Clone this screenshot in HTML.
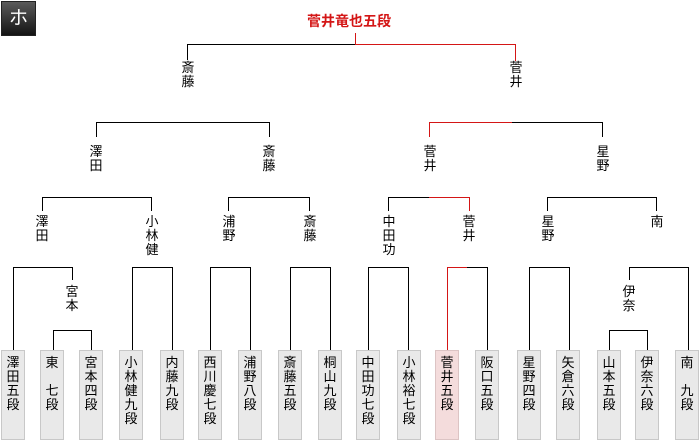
<!DOCTYPE html>
<html><head><meta charset="utf-8">
<style>
html,body{margin:0;padding:0;background:#fff;}
#c{position:relative;width:700px;height:440px;overflow:hidden;background:#fff;font-family:"Liberation Sans","Noto Sans CJK JP",sans-serif;}
svg{position:absolute;left:0;top:0;}
.icon{position:absolute;left:1px;top:1px;width:33px;height:33px;border:1px solid #222;background:linear-gradient(#5a5a5a,#141414);color:#fff;font-size:19px;line-height:33px;text-align:center;}
.title{position:absolute;left:299px;top:13px;width:100px;text-align:center;color:#d41616;font-weight:bold;font-size:14px;line-height:16px;}
.lb{position:absolute;width:16px;font-size:13px;line-height:14px;text-align:center;color:#000;word-break:break-all;}
.bx{position:absolute;top:350px;width:22px;height:88px;border:1px solid #c8c8c8;background:#e9e9e9;font-size:13px;line-height:14px;text-align:center;color:#000;box-sizing:content-box;}
.bx .t{width:14px;margin:5px auto 0;}
.bx .t i{display:block;height:14px;font-style:normal;}
.bx.win{background:#f4dcdc;border-color:#dcc4c4;}
</style></head><body>
<div id="c">
<svg width="700" height="440" shape-rendering="crispEdges">
<g stroke="#000" stroke-width="1" fill="none">
<path d="M187 44.5H355 M187.5 44V60"/>
<path d="M96 122.5H270 M96.5 122V137 M269.5 122V137"/>
<path d="M512 122.5H603 M602.5 122V137"/>
<path d="M42 197.5H152 M42.5 197V211 M151.5 197V211"/>
<path d="M228 197.5H310 M228.5 197V211 M309.5 197V211"/>
<path d="M388 197.5H429 M388.5 197V211"/>
<path d="M547 197.5H657 M547.5 197V211 M656.5 197V211"/>
<path d="M13 267.5H73 M13.5 267V350 M72.5 267V280"/>
<path d="M132 267.5H173 M132.5 267V350 M172.5 267V350"/>
<path d="M210 267.5H251 M210.5 267V350 M250.5 267V350"/>
<path d="M290 267.5H331 M290.5 267V350 M330.5 267V350"/>
<path d="M368 267.5H409 M368.5 267V350 M408.5 267V350"/>
<path d="M467 267.5H488 M487.5 267V350"/>
<path d="M529 267.5H570 M529.5 267V350 M569.5 267V350"/>
<path d="M629 267.5H689 M629.5 267V280 M688.5 267V350"/>
<path d="M53 330.5H92 M53.5 330V350 M91.5 330V350"/>
<path d="M609 330.5H648 M609.5 330V350 M647.5 330V350"/>
</g>
<g stroke="#d41616" stroke-width="1" fill="none">
<path d="M355.5 33V45 M355 44.5H516 M515.5 44V61"/>
<path d="M429 122.5H512 M429.5 122V137"/>
<path d="M429 197.5H470 M469.5 197V211"/>
<path d="M447 267.5H467 M447.5 267V350"/>
</g>
</svg>
<div class="icon">ホ</div>
<div class="title">菅井竜也五段</div>

<div class="lb" style="left:180px;top:61px">斎藤</div>
<div class="lb" style="left:508px;top:61px">菅井</div>

<div class="lb" style="left:88px;top:145px">澤田</div>
<div class="lb" style="left:261px;top:145px">斎藤</div>
<div class="lb" style="left:422px;top:145px">菅井</div>
<div class="lb" style="left:595px;top:145px">星野</div>

<div class="lb" style="left:34px;top:215px">澤田</div>
<div class="lb" style="left:144px;top:215px">小林健</div>
<div class="lb" style="left:221px;top:215px">浦野</div>
<div class="lb" style="left:302px;top:215px">斎藤</div>
<div class="lb" style="left:381px;top:215px">中田功</div>
<div class="lb" style="left:461px;top:215px">菅井</div>
<div class="lb" style="left:540px;top:215px">星野</div>
<div class="lb" style="left:649px;top:215px">南</div>

<div class="lb" style="left:64px;top:285px">宮本</div>
<div class="lb" style="left:621px;top:285px">伊奈</div>

<div class="bx" style="left:1px"><div class="t"><i>澤</i><i>田</i><i>五</i><i>段</i></div></div>
<div class="bx" style="left:40px"><div class="t"><i>東</i><i>　</i><i>七</i><i>段</i></div></div>
<div class="bx" style="left:79px"><div class="t"><i>宮</i><i>本</i><i>四</i><i>段</i></div></div>
<div class="bx" style="left:119px"><div class="t"><i>小</i><i>林</i><i>健</i><i>九</i><i>段</i></div></div>
<div class="bx" style="left:160px"><div class="t"><i>内</i><i>藤</i><i>九</i><i>段</i></div></div>
<div class="bx" style="left:198px"><div class="t"><i>西</i><i>川</i><i>慶</i><i>七</i><i>段</i></div></div>
<div class="bx" style="left:238px"><div class="t"><i>浦</i><i>野</i><i>八</i><i>段</i></div></div>
<div class="bx" style="left:278px"><div class="t"><i>斎</i><i>藤</i><i>五</i><i>段</i></div></div>
<div class="bx" style="left:318px"><div class="t"><i>桐</i><i>山</i><i>九</i><i>段</i></div></div>
<div class="bx" style="left:356px"><div class="t"><i>中</i><i>田</i><i>功</i><i>七</i><i>段</i></div></div>
<div class="bx" style="left:397px"><div class="t"><i>小</i><i>林</i><i>裕</i><i>七</i><i>段</i></div></div>
<div class="bx win" style="left:435px"><div class="t"><i>菅</i><i>井</i><i>五</i><i>段</i></div></div>
<div class="bx" style="left:475px"><div class="t"><i>阪</i><i>口</i><i>五</i><i>段</i></div></div>
<div class="bx" style="left:517px"><div class="t"><i>星</i><i>野</i><i>四</i><i>段</i></div></div>
<div class="bx" style="left:556px"><div class="t"><i>矢</i><i>倉</i><i>六</i><i>段</i></div></div>
<div class="bx" style="left:597px"><div class="t"><i>山</i><i>本</i><i>五</i><i>段</i></div></div>
<div class="bx" style="left:635px"><div class="t"><i>伊</i><i>奈</i><i>六</i><i>段</i></div></div>
<div class="bx" style="left:675px"><div class="t"><i>南</i><i>　</i><i>九</i><i>段</i></div></div>
</div>
</body></html>
